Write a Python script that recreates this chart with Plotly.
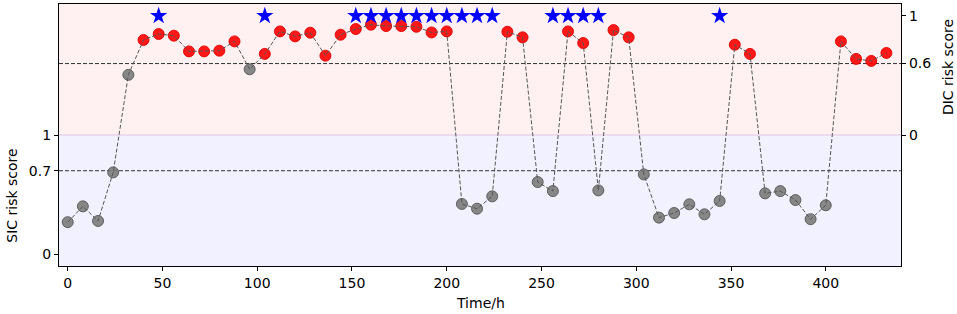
import plotly.graph_objects as go

# ---- data ----
time_h = list(range(0, 433, 8))
# which score each point is shown on ("SIC" lower panel, "DIC" upper panel)
score_type = (["SIC"] * 4 + ["DIC"] * 22 + ["SIC"] * 3 + ["DIC"] * 2 + ["SIC"] * 2 +
              ["DIC"] * 2 + ["SIC"] + ["DIC"] * 2 + ["SIC"] * 6 + ["DIC"] * 2 +
              ["SIC"] * 5 + ["DIC"] * 4)
risk_score = [0.268, 0.401, 0.278, 0.686,
              0.505, 0.798, 0.848, 0.834, 0.702, 0.702, 0.708, 0.786, 0.552, 0.681,
              0.870, 0.828, 0.859, 0.666, 0.842, 0.890, 0.926, 0.915, 0.915, 0.909,
              0.861, 0.870,
              0.421, 0.381, 0.485,
              0.867, 0.820,
              0.605, 0.529,
              0.870, 0.772,
              0.535,
              0.881, 0.820,
              0.669, 0.306, 0.345, 0.418, 0.334, 0.446,
              0.758, 0.681,
              0.510, 0.529, 0.454, 0.293, 0.410,
              0.786, 0.639, 0.622, 0.689]
star_times = [48, 104, 152, 160, 168, 176, 184, 192, 200, 208, 216, 224,
              256, 264, 272, 280, 344]
sic_threshold = 0.7
dic_threshold = 0.6
x_ticks = [0, 50, 100, 150, 200, 250, 300, 350, 400]
sic_ticks = [0, 0.7, 1]
dic_ticks = [0, 0.6, 1]

# ---- mapping to a combined axis: SIC in [0,1], DIC in [1,2] ----
plot_y = [s + (1.0 if t == "DIC" else 0.0) for s, t in zip(risk_score, score_type)]
is_red = [(t == "DIC" and s >= dic_threshold) for s, t in zip(risk_score, score_type)]
gx = [x for x, r in zip(time_h, is_red) if not r]
gy = [y for y, r in zip(plot_y, is_red) if not r]
rx = [x for x, r in zip(time_h, is_red) if r]
ry = [y for y, r in zip(plot_y, is_red) if r]

FONT = "DejaVu Sans"
FS = 14
fig = go.Figure()

fig.add_trace(go.Scatter(x=gx, y=gy, mode="markers",
                         marker=dict(size=11, color="rgba(120,120,120,0.88)",
                                     line=dict(color="rgba(85,85,85,0.9)", width=1)),
                         showlegend=False, hoverinfo="skip"))
fig.add_trace(go.Scatter(x=rx, y=ry, mode="markers",
                         marker=dict(size=11, color="rgba(255,0,0,0.9)",
                                     line=dict(color="rgba(225,0,0,0.9)", width=1)),
                         showlegend=False, hoverinfo="skip"))
fig.add_trace(go.Scatter(x=time_h, y=plot_y, mode="lines",
                         line=dict(color="#555555", width=1, dash="4px,2px"),
                         showlegend=False, hoverinfo="skip"))
fig.add_trace(go.Scatter(x=star_times, y=[2.0] * len(star_times), mode="markers",
                         marker=dict(symbol="star", size=13, color="#0000ff",
                                     line=dict(width=0)),
                         showlegend=False, hoverinfo="skip"))
# dummy trace to activate the right axis
fig.add_trace(go.Scatter(x=[None], y=[None], yaxis="y2", showlegend=False))

shapes = [
    dict(type="rect", xref="paper", yref="y", x0=0, x1=1, y0=1, y1=2.1,
         fillcolor="rgba(255,0,0,0.055)", line=dict(width=0), layer="below"),
    dict(type="rect", xref="paper", yref="y", x0=0, x1=1, y0=-0.1, y1=1,
         fillcolor="rgba(0,0,255,0.055)", line=dict(width=0), layer="below"),
    dict(type="line", xref="paper", yref="y", x0=0, x1=1, y0=1, y1=1,
         line=dict(color="rgba(230,200,230,0.55)", width=2), layer="below"),
    dict(type="line", xref="paper", yref="y", x0=0, x1=1, y0=sic_threshold, y1=sic_threshold,
         line=dict(color="#333333", width=1, dash="4px,2px"), layer="below"),
    dict(type="line", xref="paper", yref="y", x0=0, x1=1,
         y0=1 + dic_threshold, y1=1 + dic_threshold,
         line=dict(color="#333333", width=1, dash="4px,2px"), layer="below"),
]

axis_common = dict(showgrid=False, zeroline=False, showline=True, linecolor="black",
                   linewidth=1.3, ticks="outside", ticklen=4, tickwidth=1,
                   tickcolor="black", automargin=False,
                   tickfont=dict(family=FONT, size=FS, color="black"))

fig.update_layout(
    width=957, height=314,
    margin=dict(l=59, r=56, t=4, b=48, pad=0),
    plot_bgcolor="white", paper_bgcolor="white",
    shapes=shapes,
    xaxis=dict(range=[-4.6, 439.7], tickvals=x_ticks, mirror=True, **axis_common),
    yaxis=dict(range=[-0.1, 2.1], tickvals=sic_ticks,
               ticktext=[str(v) for v in sic_ticks], **axis_common),
    yaxis2=dict(range=[-0.1, 2.1], overlaying="y", side="right",
                tickvals=[1 + v for v in dic_ticks],
                ticktext=[str(v) for v in dic_ticks], **axis_common),
    annotations=[
        dict(text="Time/h", xref="paper", yref="paper", x=0.5, y=-0.141,
             xanchor="center", yanchor="middle", showarrow=False,
             font=dict(family=FONT, size=FS, color="black")),
        dict(text="SIC risk score", xref="paper", yref="y", x=-0.0558, y=0.49,
             textangle=-90, xanchor="center", yanchor="middle", showarrow=False,
             font=dict(family=FONT, size=FS, color="black")),
        dict(text="DIC risk score", xref="paper", yref="y", x=1.0558, y=1.57,
             textangle=-90, xanchor="center", yanchor="middle", showarrow=False,
             font=dict(family=FONT, size=FS, color="black")),
    ],
)

fig.write_html("out.html", config={"displayModeBar": False},
               post_script="document.body.style.margin='0';document.body.style.padding='0';")
